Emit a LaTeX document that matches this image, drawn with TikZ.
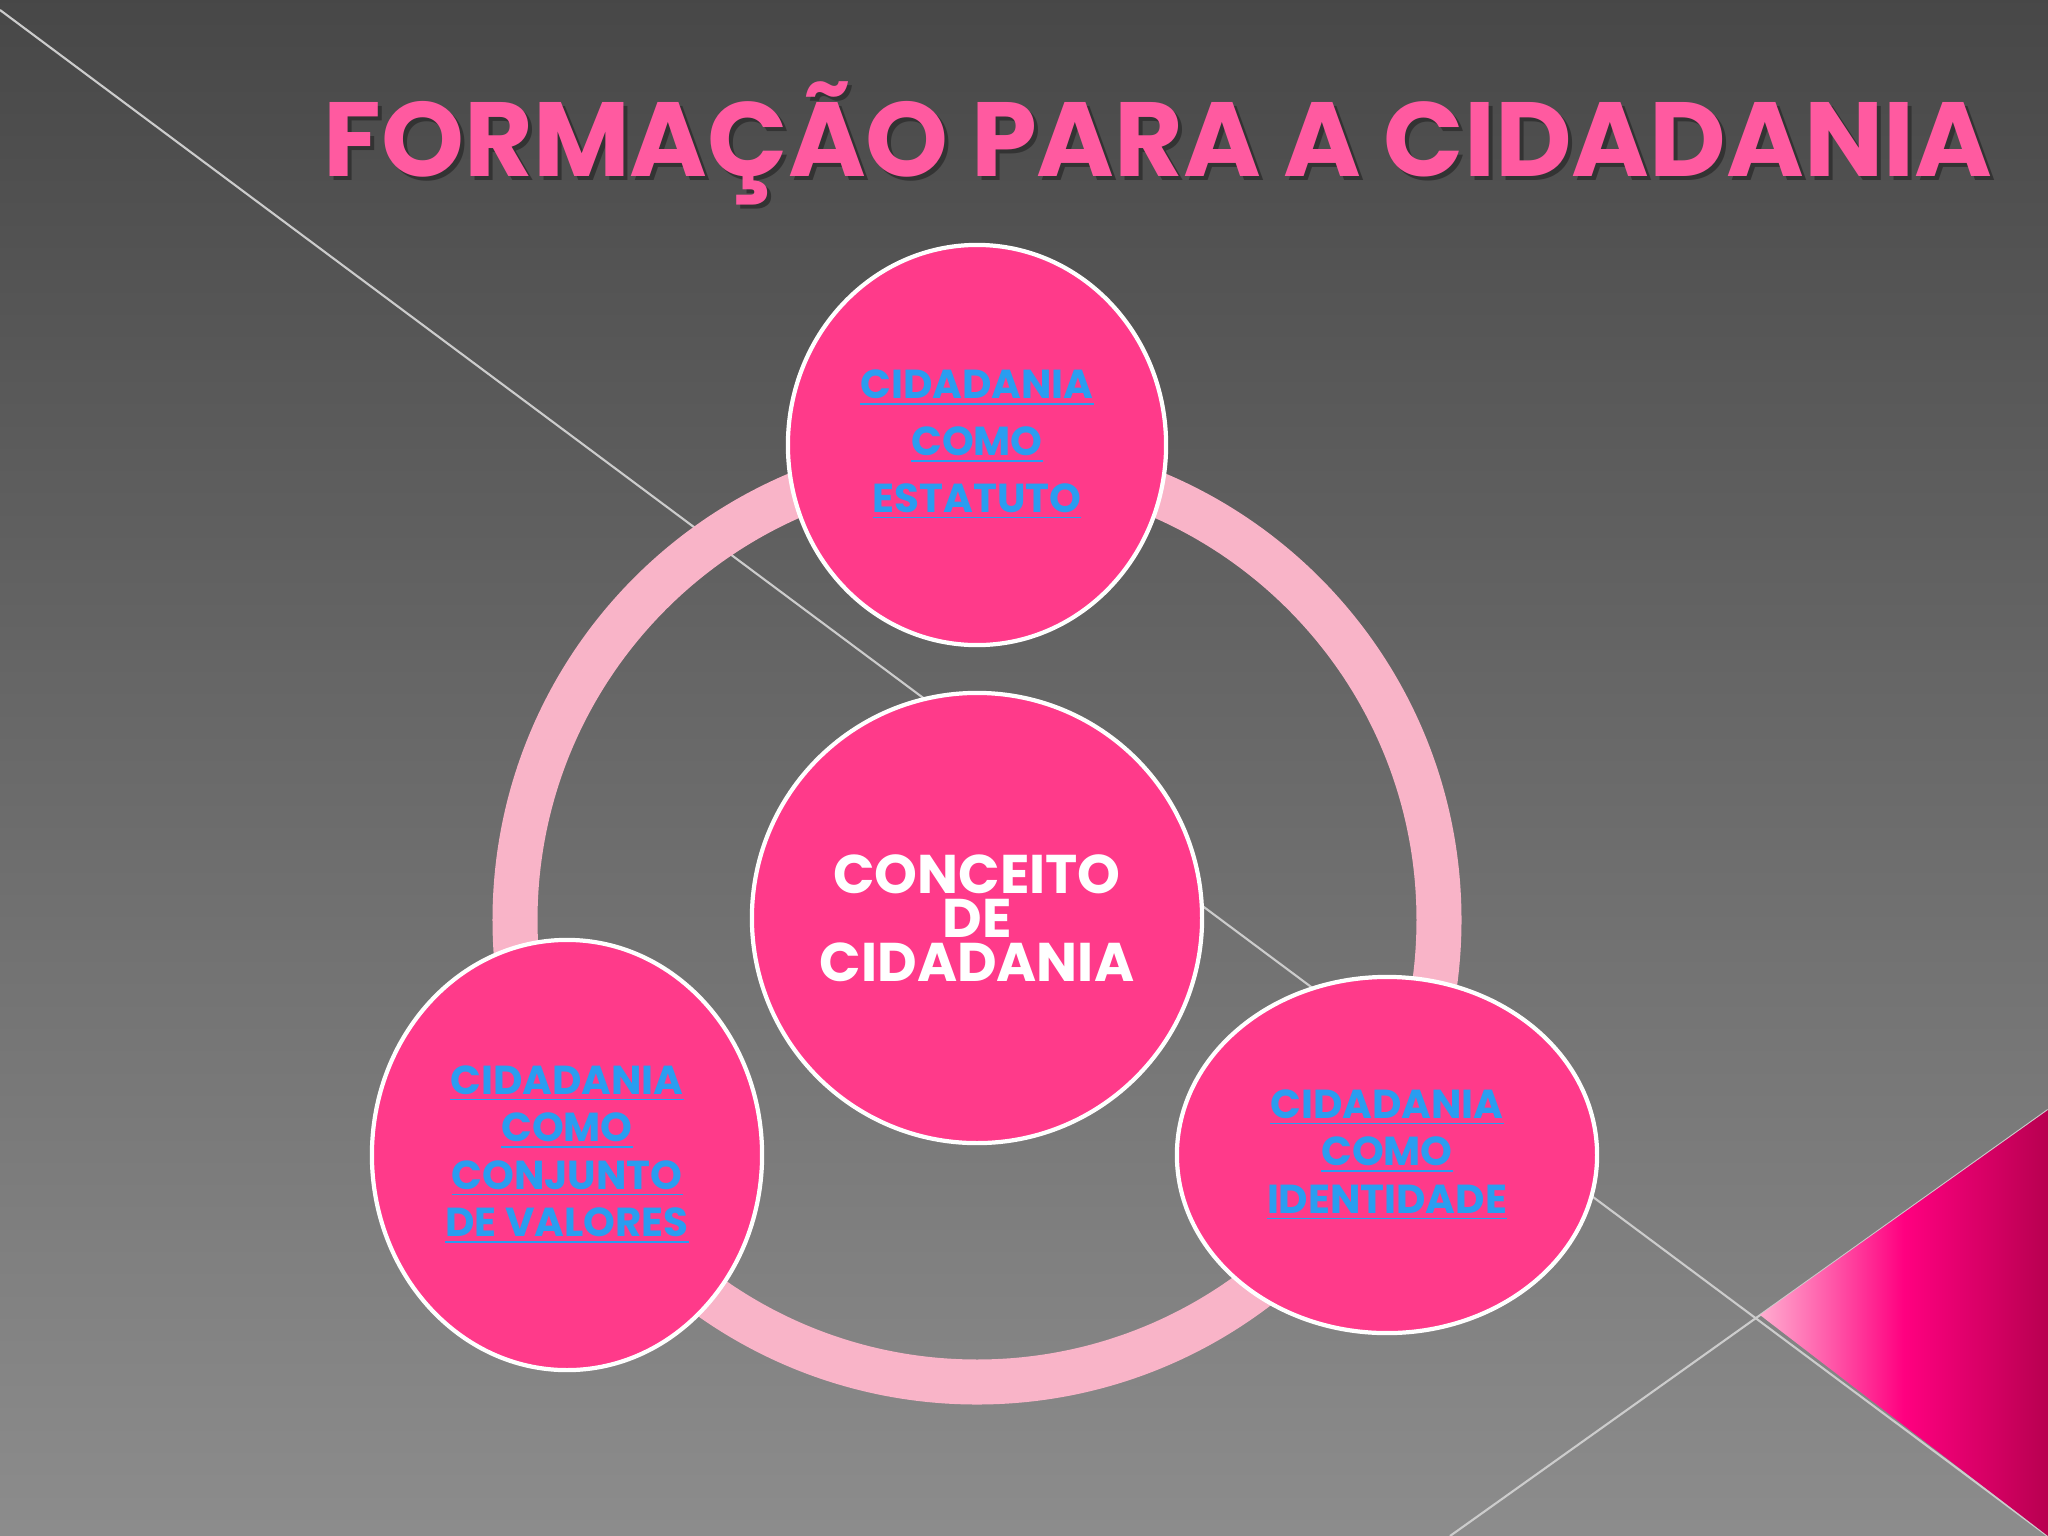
\documentclass[tikz,border=0pt]{standalone}
\usepackage{fontspec}
\setmainfont{Poppins}
\usetikzlibrary{shadings,shapes.geometric}
\definecolor{pk}{HTML}{FF3A8A}
\definecolor{ring}{HTML}{F9B4C8}
\definecolor{lnk}{HTML}{2A9DF0}
\definecolor{ttl}{HTML}{FF5AA0}
\definecolor{tri}{HTML}{FF0080}
\definecolor{trid}{HTML}{B80050}
\begin{document}
\begin{tikzpicture}[x=0.01cm,y=-0.01cm,
  bub/.style={draw=white,line width=1.2pt,fill=pk,ellipse,inner sep=0},
  lk/.style={text=lnk,align=center},
  ]
\useasboundingbox (0,0) rectangle (2048,1536);
\shade[top color=black!72, bottom color=black!45] (0,0) rectangle (2048,1536);
\draw[white!60!gray,line width=0.6pt] (0,10) -- (2048,1536);
\draw[white!60!gray,line width=0.6pt] (1450,1536) -- (2048,1110);
\shade[left color=ttl!50!white, right color=trid, middle color=tri] (1760,1315) -- (2048,1110) -- (2048,1536) -- cycle;
\node[font=\fontsize{30}{32}\selectfont\bfseries,text=black!80] at (1162,147) {FORMAÇÃO PARA A CIDADANIA};
\node[font=\fontsize{30}{32}\selectfont\bfseries,text=ttl] (title) at (1158,143) {FORMAÇÃO PARA A CIDADANIA};
\draw[ring,line width=45*0.2845pt] (977,920) circle[radius=462];
\node[bub,minimum width=378*0.2845pt,minimum height=400*0.2845pt] (top) at (977,445) {};
\node[bub,minimum width=450*0.2845pt,minimum height=450*0.2845pt] (mid) at (977,918) {};
\node[bub,minimum width=390*0.2845pt,minimum height=430*0.2845pt] (left) at (567,1155) {};
\node[bub,minimum width=420*0.2845pt,minimum height=356*0.2845pt] (right) at (1387,1155) {};
\node[lk,font=\fontsize{11.5}{14.2}\selectfont\bfseries] at (top) {\underline{CIDADANIA}\\[0.17em]\underline{COMO}\\[0.17em]\underline{ESTATUTO}};
\node[text=white,font=\fontsize{15.5}{12.5}\selectfont\bfseries,align=center] at (mid) {CONCEITO\\DE\\CIDADANIA};
\node[lk,font=\fontsize{11.5}{13.5}\selectfont\bfseries] at (left) {\underline{CIDADANIA}\\\underline{COMO}\\\underline{CONJUNTO}\\\underline{DE VALORES}};
\node[lk,font=\fontsize{11.5}{13.5}\selectfont\bfseries] at (right) {\underline{CIDADANIA}\\\underline{COMO}\\\underline{IDENTIDADE}};
\end{tikzpicture}
\end{document}
